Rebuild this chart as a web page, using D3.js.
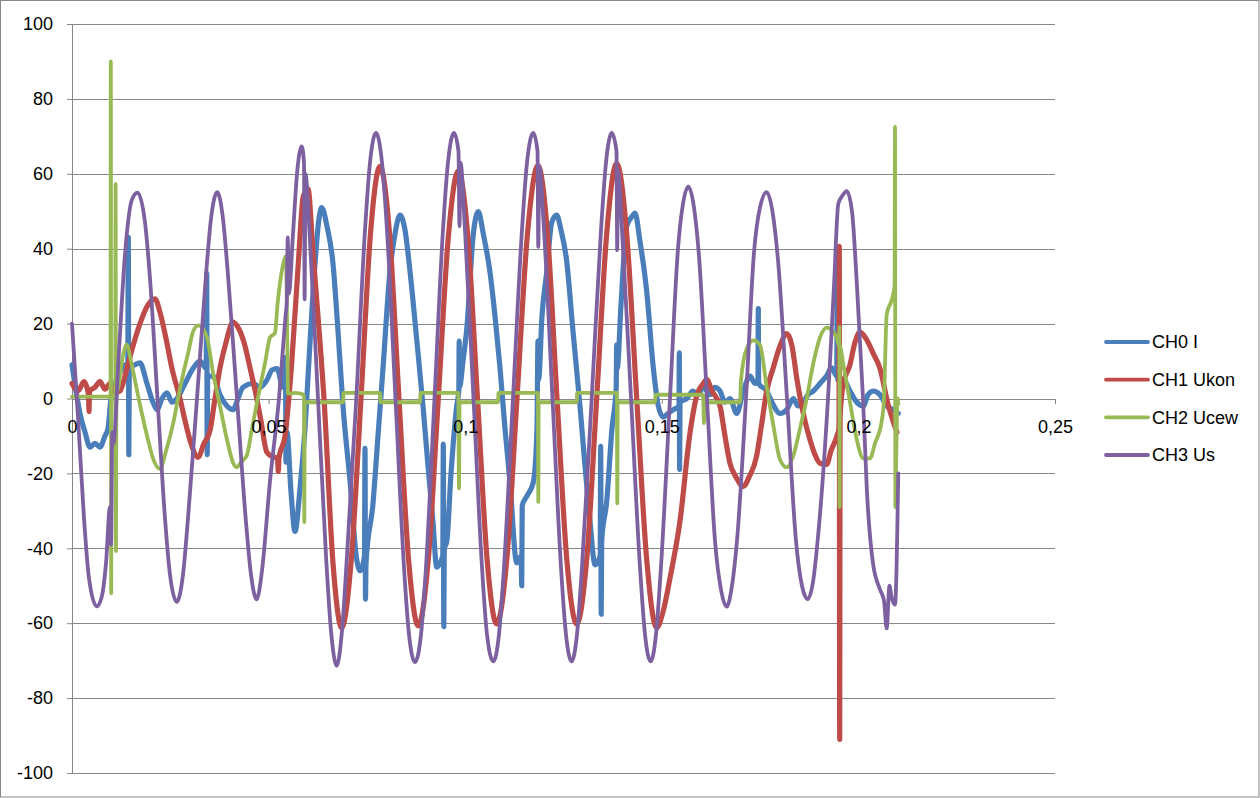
<!DOCTYPE html>
<html><head><meta charset="utf-8">
<script src="https://cdn.jsdelivr.net/npm/d3@7"></script>
<style>
html,body{margin:0;padding:0;background:#fff;}
svg{display:block;}
text{font-family:"Liberation Sans", Arial, sans-serif;}
</style></head><body>
<svg id="chart" width="1260" height="798"></svg>
<script>
// ---- data (time in s, value) ----
const xTicks = [0, 0.05, 0.1, 0.15, 0.2, 0.25];
const yTicks = [-100, -80, -60, -40, -20, 0, 20, 40, 60, 80, 100];
const seriesNames = ["CH0 I", "CH1 Ukon", "CH2 Ucew", "CH3 Us"];

const ch0 = [[0,9],[0.00102,2],[0.00203,-4],[0.00331,-9],[0.00458,-13],[0.00585,-12],[0.00712,-13],[0.00839,-10],[0.00916,-8],[0.00992,0],[0.01094,4],[0.01221,7],[0.01348,9],[0.01419,8],[0.01432,43],[0.01445,-15],[0.01457,8],[0.01602,9],[0.01729,9.5],[0.01907,4],[0.0206,-1],[0.02162,-3],[0.02289,0],[0.02416,1.5],[0.02543,-1],[0.0267,0],[0.02874,4],[0.03077,8],[0.03255,10],[0.03413,8],[0.03426,33.5],[0.03438,-15],[0.03451,6],[0.03586,6],[0.03764,1],[0.03942,-2],[0.04095,-3],[0.04222,0],[0.04349,3],[0.04603,4],[0.04781,3],[0.04959,5],[0.05086,7.6],[0.05214,8],[0.05366,3],[0.0543,11],[0.05442,-17],[0.05468,-9],[0.0557,-25],[0.05671,-35.5],[0.05799,-24],[0.05926,-8],[0.06053,15],[0.0618,36],[0.06282,48],[0.0635,51],[0.06485,46],[0.06638,36],[0.06765,18],[0.06892,-2],[0.0707,-22],[0.07241,-43],[0.07324,-46],[0.07439,-42],[0.07452,-13.3],[0.07464,-53.6],[0.07477,-44],[0.07655,-28],[0.07782,-10],[0.07909,8],[0.08087,34],[0.08215,44],[0.08342,49],[0.08469,45],[0.08596,34],[0.08774,15],[0.08927,-2],[0.09054,-18],[0.09181,-33],[0.09275,-45],[0.0943,-42],[0.09443,-12.2],[0.09456,-60.9],[0.09468,-40],[0.09529,-38.4],[0.09639,-20],[0.09784,-2],[0.09837,2],[0.09847,15.3],[0.09857,3],[0.09944,10],[0.10038,18.4],[0.10206,43.9],[0.10333,49.9],[0.1046,44],[0.10631,33.7],[0.10758,22],[0.10885,8.2],[0.11012,-8],[0.11139,-22.4],[0.1131,-43.9],[0.11424,-42],[0.11437,-50],[0.1145,-28.6],[0.11572,-26],[0.11732,-22.4],[0.11826,-8],[0.11851,15.3],[0.11867,5],[0.11953,22],[0.12073,33.7],[0.122,47],[0.12327,49],[0.12436,45],[0.12581,36.7],[0.12741,18],[0.12919,-2],[0.13047,-18],[0.13174,-32.7],[0.13301,-44.4],[0.13433,-42],[0.13446,-12.8],[0.13459,-57.6],[0.13471,-38],[0.13598,-27.6],[0.13733,-8],[0.1384,3],[0.13853,14.3],[0.13866,8],[0.13962,25],[0.14107,46],[0.14275,49],[0.14318,49.5],[0.14445,42],[0.14616,28.6],[0.14784,8.2],[0.14911,-2],[0.15038,-5],[0.15157,-4],[0.15292,-3],[0.15437,-2],[0.15445,12.2],[0.15453,-18.9],[0.15463,-1],[0.15633,0],[0.15793,2],[0.1592,1],[0.16055,3],[0.16226,1],[0.16353,3],[0.1648,2],[0.16607,-1],[0.16734,0],[0.16905,-4],[0.17073,2],[0.17243,6],[0.1737,4],[0.17446,5],[0.17454,24],[0.17462,4],[0.17668,2],[0.17802,-1],[0.18006,-4],[0.18176,-3],[0.18344,0],[0.18464,-2],[0.18598,-1],[0.18718,1],[0.18853,2],[0.19023,4],[0.19194,6.1],[0.19321,8.2],[0.1945,6],[0.19463,37],[0.19476,5],[0.19616,5.1],[0.19786,2],[0.19957,-1],[0.20124,-2],[0.20244,1],[0.20379,2],[0.20549,1],[0.2072,-2],[0.20887,-3],[0.21014,-4]];

const ch1 = [[0,4],[0.00153,2],[0.00305,4.5],[0.0042,1],[0.00432,-3.5],[0.00445,2],[0.00585,3],[0.00712,4.5],[0.00839,2.5],[0.00966,4],[0.01094,1.5],[0.01221,2],[0.01391,7.8],[0.01551,14],[0.01729,20],[0.01933,25],[0.02111,26.6],[0.02238,23],[0.02391,16],[0.02543,8],[0.02747,0],[0.02899,-7],[0.03026,-12],[0.03204,-15.7],[0.03357,-12],[0.0351,-8.6],[0.03637,0],[0.03764,8.2],[0.03917,15],[0.04095,20.4],[0.04222,19],[0.04374,15],[0.04527,8.2],[0.0468,1],[0.04807,-6],[0.04952,-14.3],[0.05086,-15.5],[0.05226,-16],[0.05247,-19.5],[0.05264,-16],[0.05417,-10],[0.05587,9.4],[0.05755,36],[0.05882,54],[0.06002,56],[0.06129,39],[0.06256,22],[0.06409,0],[0.06638,-44],[0.06859,-61.2],[0.07103,-43],[0.0735,0],[0.07591,44],[0.07833,62],[0.08075,44],[0.08316,0],[0.0856,-43],[0.08807,-60.7],[0.09061,-43],[0.09316,0],[0.0957,43],[0.09824,60.7],[0.10069,43],[0.10313,0],[0.10557,-43],[0.10801,-60.2],[0.11058,-43],[0.11317,0],[0.11584,44],[0.11851,62.2],[0.12093,44],[0.12335,0],[0.12584,-43],[0.12836,-60.2],[0.1309,-43],[0.13344,0],[0.13599,44],[0.13853,62.8],[0.14107,44],[0.14362,0],[0.14616,-43],[0.1487,-61.2],[0.1503,-57],[0.15208,-48],[0.15463,-32.7],[0.15717,-9.2],[0.15895,1],[0.16055,4],[0.16142,5.1],[0.16277,2],[0.1648,-2],[0.16607,-10],[0.16734,-17.3],[0.16887,-21],[0.17073,-23.5],[0.17218,-21],[0.17413,-15.3],[0.17523,-8],[0.17668,2],[0.17835,8.2],[0.18006,14],[0.18176,17.3],[0.18311,14],[0.18438,5],[0.18598,-4],[0.18769,-11],[0.18896,-15],[0.19023,-17.3],[0.19194,-17.6],[0.19303,-14],[0.19448,-10.2],[0.19506,-8],[0.19514,40.6],[0.19524,-91],[0.19534,-5],[0.19616,4],[0.19786,9],[0.19913,15],[0.2004,17.7],[0.20193,16],[0.20379,12],[0.20549,8],[0.20753,-1.5],[0.2088,-6],[0.20981,-9]];

const ch2 = [[0,0.5],[0.00458,0.5],[0.00979,0.5],[0.00987,90],[0.00997,-52],[0.01007,0.5],[0.01099,1],[0.01109,57.3],[0.01119,-40.7],[0.01129,1],[0.01178,3],[0.01272,10],[0.01391,14.4],[0.01501,10],[0.01602,4.8],[0.01773,-3.8],[0.01933,-11],[0.0206,-16],[0.02238,-18.8],[0.02391,-14],[0.02576,-6.5],[0.02696,0],[0.02831,6.7],[0.0295,12],[0.03085,18],[0.03212,19.5],[0.03426,16.5],[0.03586,7],[0.03764,-2],[0.03942,-11],[0.04102,-17.3],[0.04189,-18.4],[0.04298,-17],[0.04443,-15.3],[0.04578,-8],[0.04781,3],[0.04908,9.4],[0.05036,16.3],[0.05163,17.5],[0.05226,25],[0.05374,36],[0.05437,38],[0.05481,11],[0.05493,1.3],[0.05671,1.5],[0.059,1],[0.05908,-33],[0.05918,-1],[0.06307,-1],[0.06892,-1],[0.06905,1.5],[0.07833,1.5],[0.07846,-1],[0.0885,-1],[0.08863,1.5],[0.09824,1.5],[0.09842,-24],[0.09857,-1],[0.10834,-1],[0.10847,1.5],[0.11851,1.5],[0.11859,-27.6],[0.11869,-1],[0.12836,-1],[0.12848,1.5],[0.13858,1.5],[0.13868,-28],[0.13878,-1],[0.14827,-1],[0.1484,1],[0.16048,1],[0.16073,-6.6],[0.16098,-1],[0.16989,-1],[0.17014,5],[0.17159,13.3],[0.17326,15.5],[0.17497,14.3],[0.17668,3],[0.17835,-7.1],[0.18006,-16.3],[0.18176,-18.4],[0.18344,-15.3],[0.18515,-8],[0.18685,0],[0.18845,9],[0.19023,16.3],[0.19194,18.9],[0.19361,17.7],[0.19448,16.3],[0.19511,14],[0.19517,19.1],[0.19522,-29],[0.19527,14],[0.19616,9.1],[0.19786,-1],[0.19957,-10.9],[0.20124,-16],[0.20295,-16],[0.20422,-12],[0.20592,-6.1],[0.20651,0],[0.2072,22.5],[0.20847,26.3],[0.2092,30],[0.20931,72.5],[0.20941,-29],[0.20956,-20],[0.20994,0],[0.21014,-1.4]];

const ch3 = [[0,20],[0.00153,-5],[0.00305,-32],[0.00432,-48],[0.00628,-55.5],[0.00755,-53],[0.00865,-44],[0.00966,-29],[0.00992,-39],[0.01025,-9],[0.01055,-12],[0.01178,9.6],[0.01348,38.5],[0.01518,52.9],[0.01666,55],[0.01857,47],[0.01984,32],[0.02174,0],[0.02365,-32],[0.02492,-47],[0.02663,-54.3],[0.02823,-47],[0.0295,-32],[0.03179,0],[0.03408,33],[0.03535,48],[0.03695,55.1],[0.0384,48],[0.03967,33],[0.04196,0],[0.04425,-33],[0.04552,-47],[0.04697,-53.6],[0.04832,-46],[0.05036,-22],[0.05264,0],[0.0543,22],[0.05463,26],[0.05486,43],[0.05514,28],[0.05621,44],[0.05722,60],[0.05842,67.3],[0.059,63],[0.05916,26.5],[0.05936,60],[0.06053,42],[0.06256,0],[0.0646,-42],[0.06587,-62],[0.06732,-71.4],[0.06867,-62],[0.06994,-42],[0.0723,0],[0.07452,45],[0.07579,63],[0.07731,70.9],[0.07884,63],[0.08011,45],[0.08227,0],[0.08443,-45],[0.08571,-63],[0.08723,-70.4],[0.08876,-63],[0.09003,-45],[0.09219,0],[0.09435,45],[0.09562,63],[0.09715,70.9],[0.09829,66],[0.09855,46],[0.0988,63],[0.09995,45],[0.10211,0],[0.10427,-45],[0.10554,-63],[0.10715,-70.2],[0.10859,-63],[0.10987,-45],[0.11215,0],[0.11444,45],[0.11572,63],[0.11732,70.9],[0.11839,66],[0.11859,40.5],[0.11882,62],[0.12004,45],[0.1222,0],[0.12436,-45],[0.12563,-63],[0.12708,-70.2],[0.12843,-63],[0.1297,-45],[0.13217,0],[0.13454,45],[0.13581,63],[0.13726,70.9],[0.13848,66],[0.13866,39.6],[0.13886,61],[0.13988,45],[0.14217,0],[0.14445,-45],[0.14573,-63],[0.14718,-70.2],[0.14852,-63],[0.14979,-45],[0.15208,0],[0.15412,40],[0.15539,52],[0.15674,56.6],[0.15819,51],[0.15946,38],[0.16149,0],[0.16353,-38],[0.16505,-51],[0.1665,-55.6],[0.16785,-50],[0.16912,-38],[0.17141,0],[0.17345,39],[0.17497,51],[0.17668,55.1],[0.17828,49],[0.17955,37],[0.18184,0],[0.18413,-38],[0.18565,-50],[0.1871,-53.6],[0.18845,-49],[0.18972,-37],[0.19227,0],[0.19379,30],[0.19489,52],[0.19583,54],[0.19702,55.4],[0.19837,50],[0.19964,30],[0.20117,0],[0.20218,-25],[0.20371,-44],[0.20549,-51],[0.20651,-54],[0.20719,-61.4],[0.20791,-50],[0.20842,-53],[0.20931,-55],[0.21014,-20]];

const seriesData = [ch0, ch1, ch2, ch3];

// ---- styles ----
const seriesColors = ["#4a7ebb", "#be4b48", "#98b954", "#7d60a0"];
const seriesWidths = [5.2, 5.2, 3.8, 3.8];
const gridColor = "#868686";

const svg = d3.select("#chart");
const W = 1260, H = 798;
const plot = {left: 72, right: 1055, top: 24, bottom: 773};

const x = d3.scaleLinear().domain([0, 0.25]).range([plot.left, plot.right]);
const y = d3.scaleLinear().domain([-100, 100]).range([plot.bottom, plot.top]);

const loc = d3.formatLocale({decimal: ",", thousands: ".", grouping: [3], currency: ["", ""], minus: "-"});
const fmt = loc.format("~g");

svg.append("rect").attr("x", 0.5).attr("y", 0.5).attr("width", W - 1.5).attr("height", H - 1.5)
  .attr("fill", "#fff").attr("stroke", gridColor).attr("stroke-width", 1);

// gridlines
svg.append("g").selectAll("line").data(yTicks).join("line")
  .attr("x1", plot.left).attr("x2", plot.right)
  .attr("y1", d => Math.round(y(d)) + 0.5).attr("y2", d => Math.round(y(d)) + 0.5)
  .attr("stroke", gridColor).attr("stroke-width", 1);

// axis lines and ticks (under the series)
const yAxisLines = svg.append("g").attr("transform", `translate(${plot.left},0)`)
  .call(d3.axisLeft(y).tickValues(yTicks).tickSize(5).tickSizeOuter(0).tickFormat(""));
const xAxisLines = svg.append("g").attr("transform", `translate(0,${Math.round(y(0))})`)
  .call(d3.axisBottom(x).tickValues(xTicks).tickSize(5).tickSizeOuter(0).tickFormat(""));
[yAxisLines, xAxisLines].forEach(g => {
  g.selectAll("path,line").attr("stroke", gridColor).attr("stroke-width", 1);
});

// series
const line = d3.line().x(d => x(d[0])).y(d => y(d[1])).curve(d3.curveMonotoneX);
svg.append("g").selectAll("path").data(seriesData).join("path")
  .attr("d", d => line(d))
  .attr("fill", "none")
  .attr("stroke", (d, i) => seriesColors[i])
  .attr("stroke-width", (d, i) => seriesWidths[i])
  .attr("stroke-linejoin", "round").attr("stroke-linecap", "round");

// tick labels (over the series)
const yLab = svg.append("g").attr("transform", `translate(${plot.left},0)`)
  .call(d3.axisLeft(y).tickValues(yTicks).tickSize(0).tickPadding(19).tickFormat(fmt));
const xLab = svg.append("g").attr("transform", `translate(0,${Math.round(y(0))})`)
  .call(d3.axisBottom(x).tickValues(xTicks).tickSize(0).tickPadding(21).tickFormat(fmt));
[yLab, xLab].forEach(g => {
  g.select(".domain").remove();
  g.selectAll("line").remove();
  g.selectAll("text").attr("fill", "#000").style("font-size", "18px")
    .style("font-family", '"Liberation Sans", Arial, sans-serif');
});

// legend
const legendY = d3.scalePoint().domain(seriesNames).range([342, 455]);
const leg = svg.append("g").selectAll("g").data(seriesNames).join("g")
  .attr("transform", d => `translate(0,${legendY(d)})`);
leg.append("line").attr("x1", 1106).attr("x2", 1148).attr("y1", 0).attr("y2", 0)
  .attr("stroke", (d, i) => seriesColors[i]).attr("stroke-width", 3.8).attr("stroke-linecap", "round");
leg.append("text").attr("x", 1152).attr("y", 0).attr("dy", "0.36em")
  .style("font-size", "18px").attr("fill", "#000").text(d => d);
</script>
</body></html>
